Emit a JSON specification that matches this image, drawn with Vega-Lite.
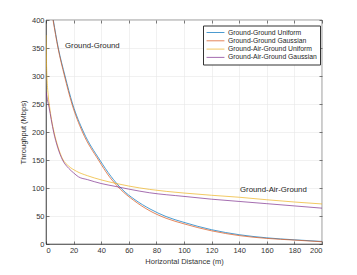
{
  "$schema": "https://vega.github.io/schema/vega-lite/v6.json",
  "autosize": "none",
  "width": 276,
  "height": 224,
  "padding": {"left": 46, "top": 20, "right": 35, "bottom": 31},
  "background": "white",
  "config": {
    "font": "Liberation Sans",
    "view": {"stroke": "#262626", "strokeWidth": 0.6},
    "axis": {
      "domainColor": "#262626", "domainWidth": 0.6,
      "tickColor": "#262626", "tickWidth": 0.6, "tickSize": -3,
      "labelColor": "#333333", "labelFontSize": 7.5, "labelFont": "Liberation Sans",
      "titleColor": "#333333", "titleFontSize": 7.5, "titleFontWeight": "normal", "titleFont": "Liberation Sans",
      "gridColor": "#e8e8e8", "gridWidth": 0.6
    }
  },
  "datasets": {
    "curves": [
      {"s": "Ground-Ground Uniform", "x": 5.3, "y": 400},
      {"s": "Ground-Ground Uniform", "x": 8.9, "y": 350},
      {"s": "Ground-Ground Uniform", "x": 13.8, "y": 300},
      {"s": "Ground-Ground Uniform", "x": 19.3, "y": 250},
      {"s": "Ground-Ground Uniform", "x": 27.2, "y": 200},
      {"s": "Ground-Ground Uniform", "x": 39, "y": 150},
      {"s": "Ground-Ground Uniform", "x": 47, "y": 121},
      {"s": "Ground-Ground Uniform", "x": 55, "y": 98},
      {"s": "Ground-Ground Uniform", "x": 64.5, "y": 79},
      {"s": "Ground-Ground Uniform", "x": 75.4, "y": 62.5},
      {"s": "Ground-Ground Uniform", "x": 87, "y": 49},
      {"s": "Ground-Ground Uniform", "x": 100, "y": 38.6},
      {"s": "Ground-Ground Uniform", "x": 120, "y": 25.5},
      {"s": "Ground-Ground Uniform", "x": 140, "y": 16.6},
      {"s": "Ground-Ground Uniform", "x": 160, "y": 11},
      {"s": "Ground-Ground Uniform", "x": 180, "y": 7.5},
      {"s": "Ground-Ground Uniform", "x": 200, "y": 4.6},
      {"s": "Ground-Ground Gaussian", "x": 5.1, "y": 400},
      {"s": "Ground-Ground Gaussian", "x": 8.7, "y": 350},
      {"s": "Ground-Ground Gaussian", "x": 13.4, "y": 300},
      {"s": "Ground-Ground Gaussian", "x": 18.8, "y": 250},
      {"s": "Ground-Ground Gaussian", "x": 26.4, "y": 200},
      {"s": "Ground-Ground Gaussian", "x": 38, "y": 150},
      {"s": "Ground-Ground Gaussian", "x": 46, "y": 120},
      {"s": "Ground-Ground Gaussian", "x": 53.8, "y": 98},
      {"s": "Ground-Ground Gaussian", "x": 63.5, "y": 78},
      {"s": "Ground-Ground Gaussian", "x": 75.4, "y": 59},
      {"s": "Ground-Ground Gaussian", "x": 87, "y": 46},
      {"s": "Ground-Ground Gaussian", "x": 100, "y": 36},
      {"s": "Ground-Ground Gaussian", "x": 120, "y": 23.5},
      {"s": "Ground-Ground Gaussian", "x": 140, "y": 15},
      {"s": "Ground-Ground Gaussian", "x": 160, "y": 10},
      {"s": "Ground-Ground Gaussian", "x": 180, "y": 7},
      {"s": "Ground-Ground Gaussian", "x": 200, "y": 4},
      {"s": "Ground-Air-Ground Uniform", "x": 0, "y": 373},
      {"s": "Ground-Air-Ground Uniform", "x": 0.3, "y": 330},
      {"s": "Ground-Air-Ground Uniform", "x": 0.7, "y": 298},
      {"s": "Ground-Air-Ground Uniform", "x": 1.5, "y": 268},
      {"s": "Ground-Air-Ground Uniform", "x": 2.6, "y": 245},
      {"s": "Ground-Air-Ground Uniform", "x": 4, "y": 222},
      {"s": "Ground-Air-Ground Uniform", "x": 5.8, "y": 200},
      {"s": "Ground-Air-Ground Uniform", "x": 8.5, "y": 175},
      {"s": "Ground-Air-Ground Uniform", "x": 12, "y": 152},
      {"s": "Ground-Air-Ground Uniform", "x": 16.5, "y": 139},
      {"s": "Ground-Air-Ground Uniform", "x": 22, "y": 130},
      {"s": "Ground-Air-Ground Uniform", "x": 30, "y": 122},
      {"s": "Ground-Air-Ground Uniform", "x": 40, "y": 114.5},
      {"s": "Ground-Air-Ground Uniform", "x": 50, "y": 108.5},
      {"s": "Ground-Air-Ground Uniform", "x": 60, "y": 103.5},
      {"s": "Ground-Air-Ground Uniform", "x": 75, "y": 97.5},
      {"s": "Ground-Air-Ground Uniform", "x": 100, "y": 91},
      {"s": "Ground-Air-Ground Uniform", "x": 120, "y": 87},
      {"s": "Ground-Air-Ground Uniform", "x": 140, "y": 83.5},
      {"s": "Ground-Air-Ground Uniform", "x": 160, "y": 79},
      {"s": "Ground-Air-Ground Uniform", "x": 180, "y": 75},
      {"s": "Ground-Air-Ground Uniform", "x": 200, "y": 71.5},
      {"s": "Ground-Air-Ground Gaussian", "x": 0, "y": 272},
      {"s": "Ground-Air-Ground Gaussian", "x": 1, "y": 258},
      {"s": "Ground-Air-Ground Gaussian", "x": 2.3, "y": 243},
      {"s": "Ground-Air-Ground Gaussian", "x": 3.8, "y": 222},
      {"s": "Ground-Air-Ground Gaussian", "x": 5.6, "y": 199},
      {"s": "Ground-Air-Ground Gaussian", "x": 8.4, "y": 173},
      {"s": "Ground-Air-Ground Gaussian", "x": 12, "y": 150},
      {"s": "Ground-Air-Ground Gaussian", "x": 16.5, "y": 135},
      {"s": "Ground-Air-Ground Gaussian", "x": 20, "y": 127},
      {"s": "Ground-Air-Ground Gaussian", "x": 23.5, "y": 120},
      {"s": "Ground-Air-Ground Gaussian", "x": 30, "y": 115},
      {"s": "Ground-Air-Ground Gaussian", "x": 40, "y": 108},
      {"s": "Ground-Air-Ground Gaussian", "x": 50, "y": 103},
      {"s": "Ground-Air-Ground Gaussian", "x": 60, "y": 98},
      {"s": "Ground-Air-Ground Gaussian", "x": 75, "y": 91.5},
      {"s": "Ground-Air-Ground Gaussian", "x": 100, "y": 85},
      {"s": "Ground-Air-Ground Gaussian", "x": 120, "y": 80},
      {"s": "Ground-Air-Ground Gaussian", "x": 140, "y": 76},
      {"s": "Ground-Air-Ground Gaussian", "x": 160, "y": 72},
      {"s": "Ground-Air-Ground Gaussian", "x": 180, "y": 68},
      {"s": "Ground-Air-Ground Gaussian", "x": 200, "y": 64}
    ],
    "labels": [
      {"label": "Ground-Ground", "x": 13.8, "y": 354},
      {"label": "Ground-Air-Ground", "x": 140.6, "y": 97}
    ]
  },
  "layer": [
    {
      "data": {"name": "curves"},
      "mark": {"type": "line", "strokeWidth": 0.9, "opacity": 0.78, "clip": true, "interpolate": "monotone"},
      "encoding": {
        "x": {"field": "x", "type": "quantitative", "scale": {"domain": [0, 200], "nice": false},
              "axis": {"values": [0, 20, 40, 60, 80, 100, 120, 140, 160, 180, 200], "title": "Horizontal Distance (m)", "labelPadding": 5, "titlePadding": 4}},
        "y": {"field": "y", "type": "quantitative", "scale": {"domain": [0, 400], "nice": false},
              "axis": {"values": [0, 50, 100, 150, 200, 250, 300, 350, 400], "title": "Throughput (Mbps)", "labelPadding": 5, "titlePadding": 4}},
        "color": {"field": "s", "type": "nominal",
          "scale": {"domain": ["Ground-Ground Uniform", "Ground-Ground Gaussian", "Ground-Air-Ground Uniform", "Ground-Air-Ground Gaussian"],
                    "range": ["#0072BD", "#D95319", "#EDB120", "#7E2F8E"]},
          "legend": {"title": null, "orient": "none", "legendX": 157, "legendY": 5.5,
                     "symbolType": "stroke", "symbolSize": 320, "symbolStrokeWidth": 0.9, "symbolOpacity": 0.78,
                     "clipHeight": 8, "rowPadding": 0.3,
                     "labelFontSize": 6.8, "labelColor": "#262626", "labelOffset": 3,
                     "strokeColor": "#333333", "fillColor": "white", "padding": 3}}
      }
    },
    {
      "data": {"name": "labels"},
      "mark": {"type": "text", "align": "left", "baseline": "middle", "fontSize": 7.8, "color": "#262626"},
      "encoding": {
        "x": {"field": "x", "type": "quantitative", "axis": {"orient": "top", "labels": false, "title": null, "grid": false, "domain": false, "values": [0, 20, 40, 60, 80, 100, 120, 140, 160, 180, 200]}},
        "y": {"field": "y", "type": "quantitative", "axis": {"orient": "right", "labels": false, "title": null, "grid": false, "domain": false, "values": [0, 50, 100, 150, 200, 250, 300, 350, 400]}},
        "text": {"field": "label"}
      }
    }
  ],
  "resolve": {"axis": {"x": "independent", "y": "independent"}}
}
